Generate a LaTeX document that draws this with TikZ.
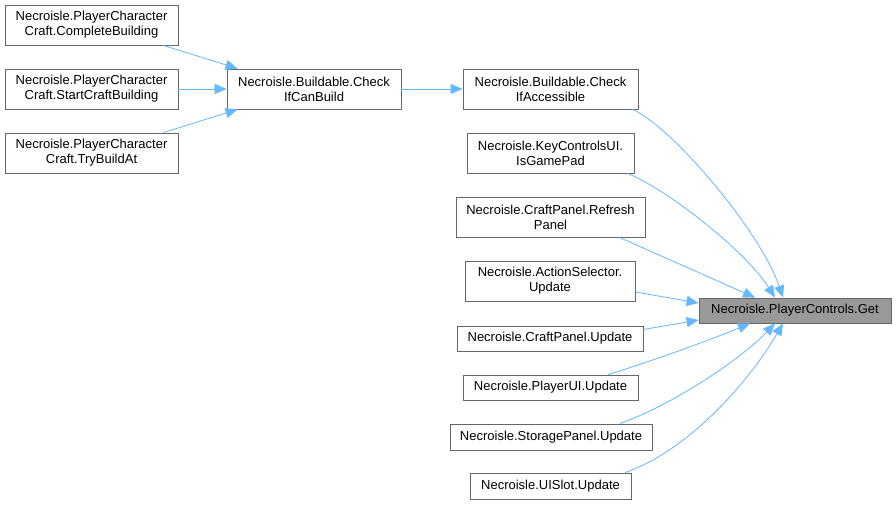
\documentclass[tikz,border=0pt]{standalone}
\usepackage{fontspec}
\setmainfont{Liberation Sans}
\usetikzlibrary{arrows.meta}
\definecolor{edgeblue}{RGB}{99,184,255}
\definecolor{boxline}{RGB}{102,102,102}
\definecolor{getfill}{RGB}{153,153,153}
\begin{document}
\begin{tikzpicture}[x=1pt,y=-1pt,
  fn/.style={draw=boxline,line width=0.9pt,fill=white,inner sep=0pt,align=center,
    font=\fontsize{13}{15}\selectfont},
  call/.style={draw=edgeblue,line width=0.8pt,-{Triangle[length=12pt,width=10pt]}}]
\useasboundingbox[fill=white] (0,0) rectangle (896,505);
\node[fn,minimum width=173pt,minimum height=40pt] (cb) at (91.5,25) {Necroisle.PlayerCharacter\\Craft.CompleteBuilding};
\node[fn,minimum width=173pt,minimum height=40pt] (scb) at (91.5,89) {Necroisle.PlayerCharacter\\Craft.StartCraftBuilding};
\node[fn,minimum width=173pt,minimum height=40pt] (tba) at (91.5,153) {Necroisle.PlayerCharacter\\Craft.TryBuildAt};
\node[fn,minimum width=174pt,minimum height=40pt] (cicb) at (314,89) {Necroisle.Buildable.Check\\IfCanBuild};
\node[fn,minimum width=175pt,minimum height=40pt] (cia) at (550.5,89) {Necroisle.Buildable.Check\\IfAccessible};
\node[fn,minimum width=167pt,minimum height=40pt] (igp) at (550.5,153) {Necroisle.KeyControlsUI.\\IsGamePad};
\node[fn,minimum width=189pt,minimum height=40pt] (rp) at (550.5,217) {Necroisle.CraftPanel.Refresh\\Panel};
\node[fn,minimum width=170pt,minimum height=40pt] (as) at (550,281) {Necroisle.ActionSelector.\\Update};
\node[fn,minimum width=186pt,minimum height=25pt] (cpu) at (550,338.5) {Necroisle.CraftPanel.Update};
\node[fn,minimum width=175pt,minimum height=25pt] (pui) at (550.5,387.5) {Necroisle.PlayerUI.Update};
\node[fn,minimum width=202pt,minimum height=26pt] (spu) at (551,437) {Necroisle.StoragePanel.Update};
\node[fn,minimum width=161pt,minimum height=26pt] (uis) at (550.5,486) {Necroisle.UISlot.Update};
\node[fn,fill=getfill,minimum width=192pt,minimum height=25pt] (get) at (795,310.5) {Necroisle.PlayerControls.Get};

\draw[call] ([xshift=-15pt]cb.south east) -- ([xshift=11pt]cicb.north west);
\draw[call] (scb.east) -- (cicb.west);
\draw[call] ([xshift=-15pt]tba.north east) -- ([xshift=11pt]cicb.south west);
\draw[call] (cicb.east) -- (cia.west);

\draw[call] ([xshift=-6pt]cia.south east) .. controls (670,125) and (760,230) .. ([xshift=-12pt]get.north);
\draw[call] ([xshift=-7pt]igp.south east) .. controls (665,188) and (745,250) .. ([xshift=-20pt]get.north);
\draw[call] ([xshift=-26pt]rp.south east) -- ([xshift=-40pt]get.north);
\draw[call] ([yshift=-11pt]as.east) -- ([yshift=7.5pt]get.west);
\draw[call] ([yshift=9pt]cpu.east) -- ([yshift=-9.5pt]get.west);
\draw[call] ([xshift=57.5pt]pui.north) .. controls (650,362) and (715,338) .. ([xshift=-45pt]get.south);
\draw[call] ([xshift=69pt]spu.north) .. controls (672,405) and (740,360) .. ([xshift=-20pt]get.south);
\draw[call] ([xshift=74.5pt]uis.north) .. controls (690,450) and (750,380) .. ([xshift=-12pt]get.south);
\end{tikzpicture}
\end{document}
